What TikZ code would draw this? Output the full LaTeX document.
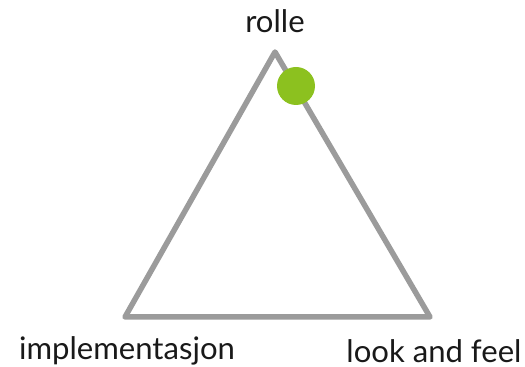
\documentclass[tikz,border=0pt]{standalone}
\usepackage{fontspec}
\setmainfont{Lato}
\definecolor{ggray}{HTML}{9B9B9B}
\definecolor{ggreen}{HTML}{8CC11F}
\usetikzlibrary{positioning}

\begin{document}
\begin{tikzpicture}[
    x=0.02cm, y=-0.02cm,
    side/.style={ggray, line width=0.11cm, line join=round, line cap=round},
    corner/.style={font=\fontsize{17.7}{20}\selectfont, text=black!90, inner sep=0pt},
  ]
  \useasboundingbox (0,0) rectangle (525,367);
  \coordinate (top) at (275,52);
  \coordinate (left) at (125,317);
  \coordinate (right) at (430,317);
  \draw[side] (top) -- (right) -- (left) -- cycle;
  \fill[ggreen] (296,86) circle (19);
  \node[corner] (rolle) at (275,21) {rolle};
  \node[corner] (impl) at (127,351) {implementasjon};
  \node[corner] (laf) at (434,351) {look and feel};
\end{tikzpicture}
\end{document}
